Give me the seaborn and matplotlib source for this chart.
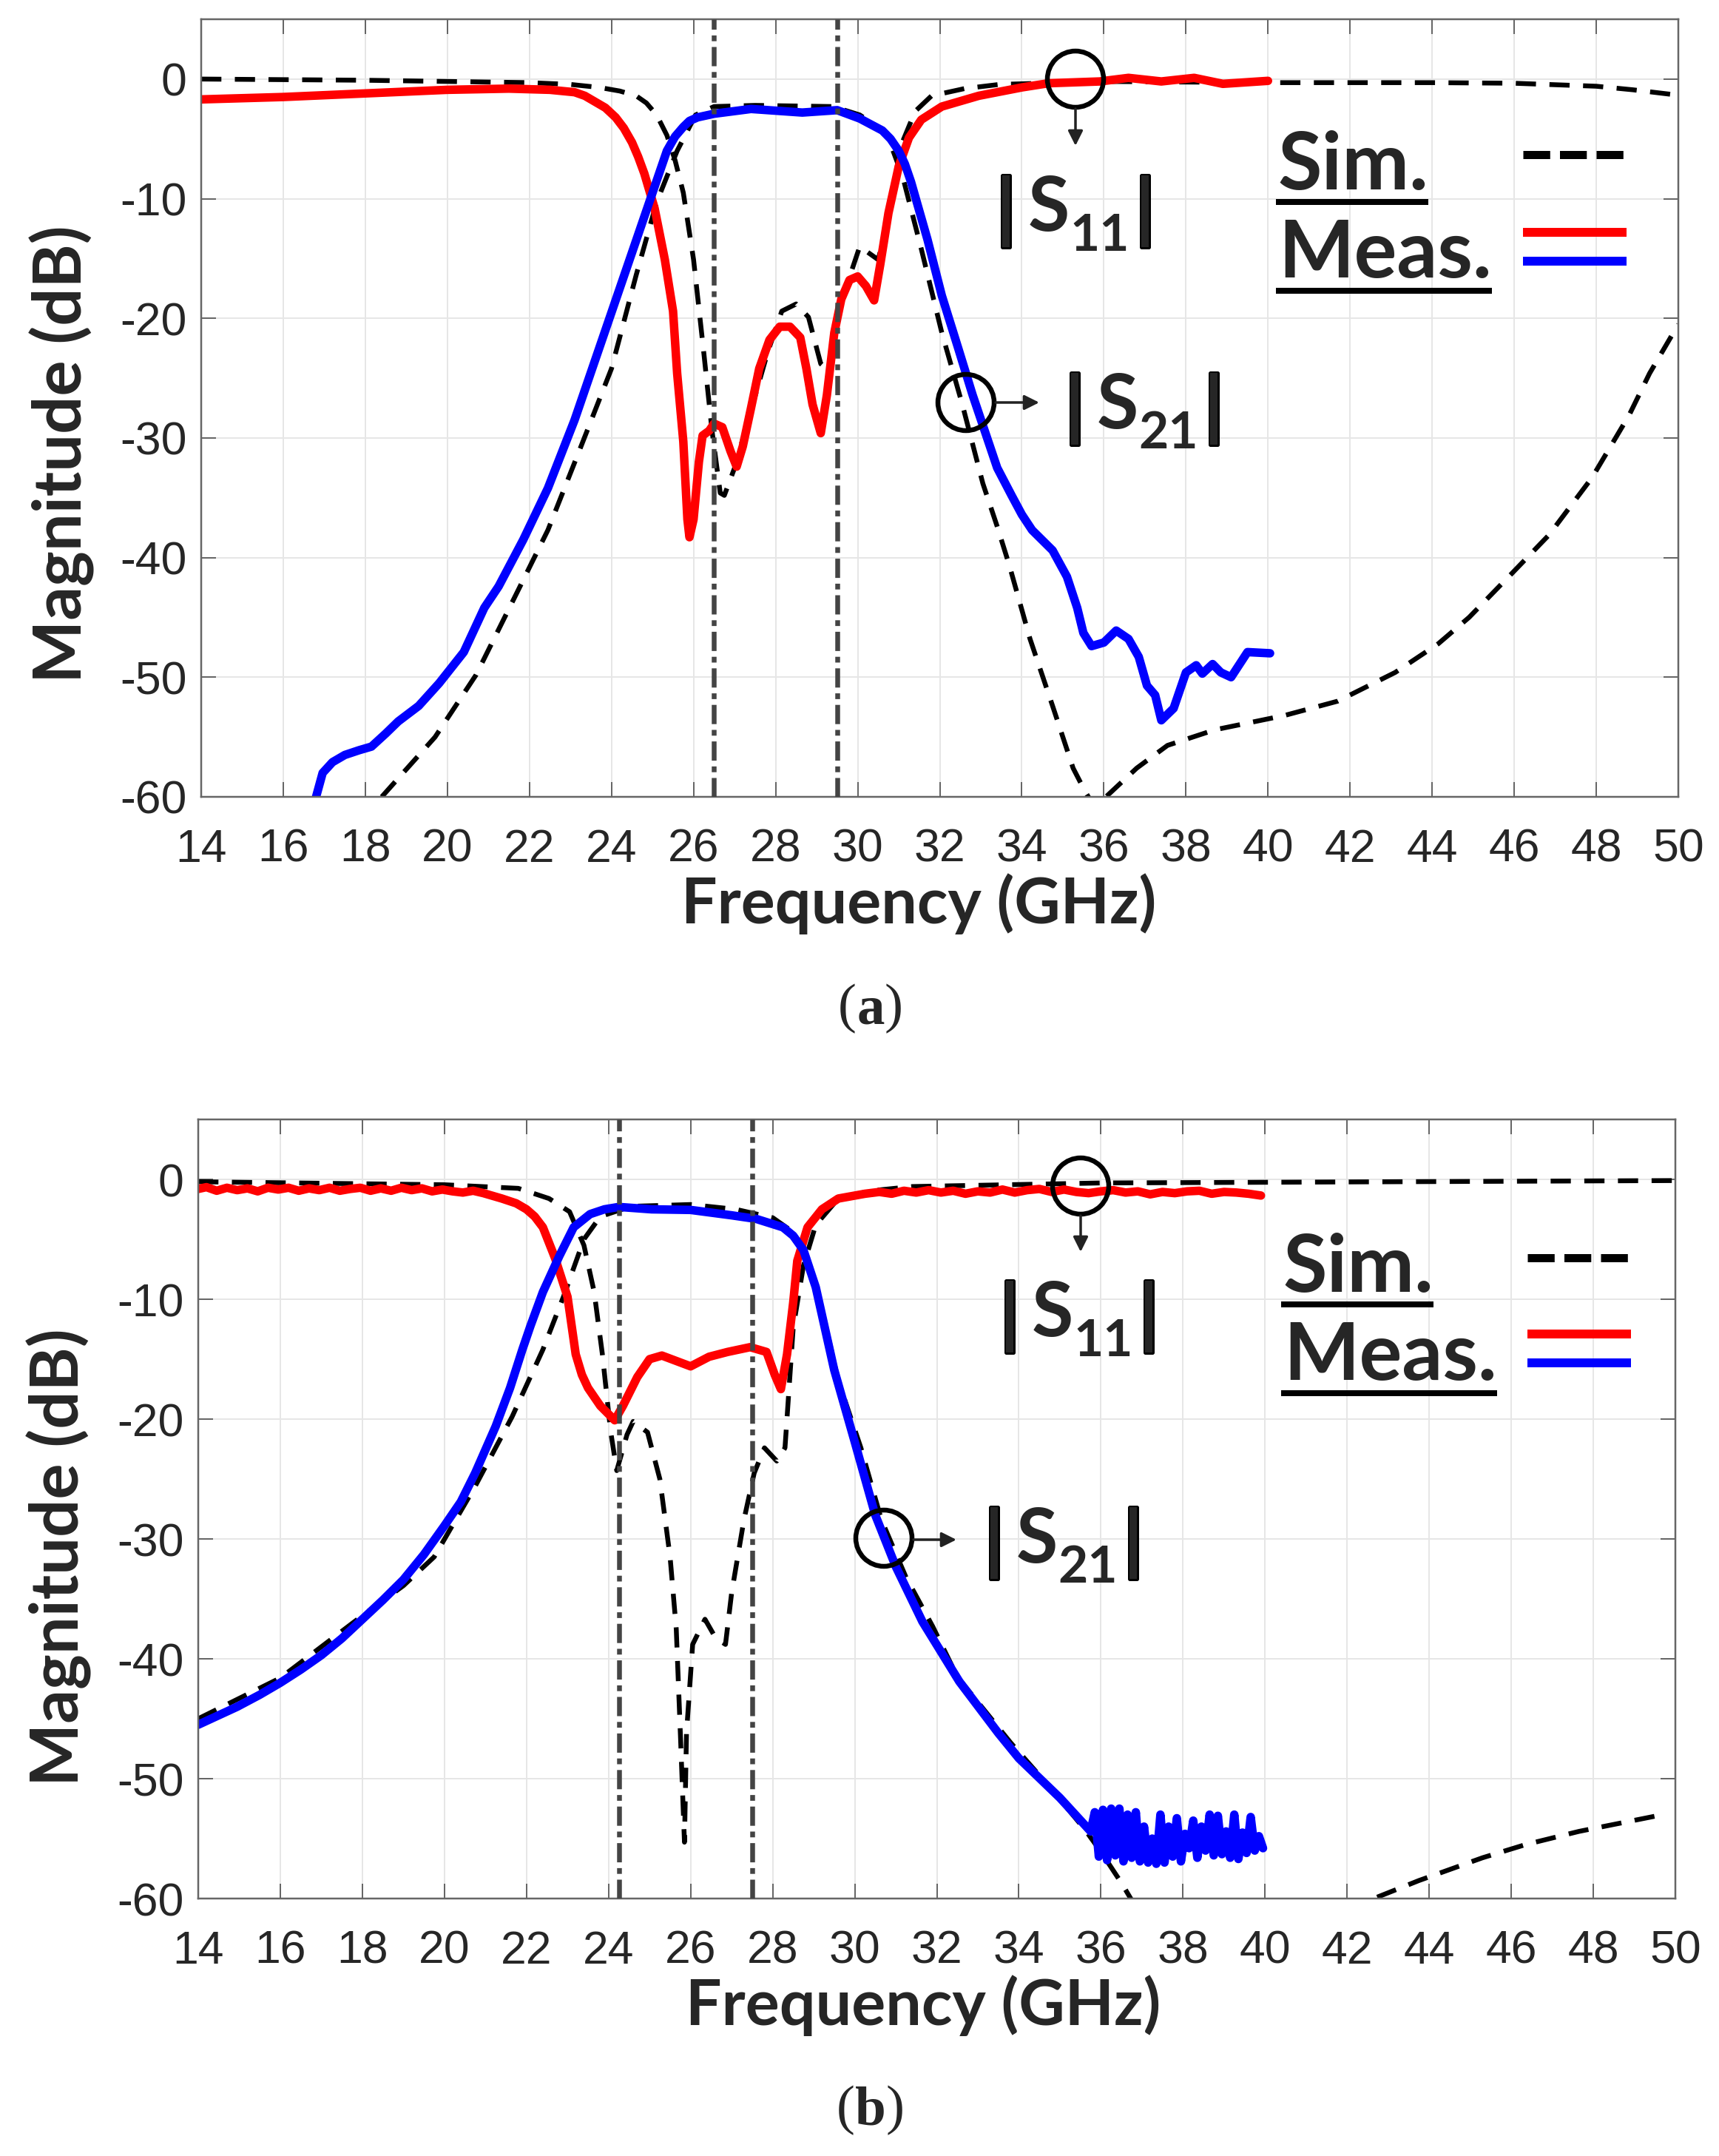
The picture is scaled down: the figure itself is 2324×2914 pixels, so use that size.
import matplotlib
matplotlib.use("Agg")
import matplotlib.pyplot as plt
import matplotlib.patheffects as pe
from matplotlib.patches import Circle
import seaborn as sns

# panel (a), values
a_sim_s11_x = [14, 18, 22, 23, 23.7, 24.2, 24.6, 24.85, 25.1, 25.35, 25.55, 25.75, 26, 26.25, 26.45, 26.65, 26.75, 27, 27.4, 27.8, 28.15, 28.5, 28.8, 29.1, 29.3, 29.6, 30.05, 30.5, 30.75, 31.05, 31.4, 31.8, 32.6, 33.45, 36, 40, 44, 46, 48, 48.9, 50]
a_sim_s11_y = [0, -0.1, -0.3, -0.45, -0.7, -1.0, -1.4, -2, -3, -4.7, -6.8, -9.5, -15.1, -22.9, -29.4, -34.6, -34.8, -32.5, -27.7, -22.9, -19.4, -18.8, -19.9, -23.8, -24.4, -18.6, -14, -15.1, -11.6, -5.6, -2.7, -1.4, -0.8, -0.45, -0.2, -0.3, -0.3, -0.35, -0.6, -0.9, -1.35]
a_sim_s21_x = [18.4, 19.7, 20.7, 21.7, 22.45, 23.2, 24, 24.6, 25.1, 25.6, 26.05, 26.5, 27.5, 29.4, 30.05, 30.7, 31.1, 31.55, 32.05, 32.55, 33.05, 33.4, 33.7, 34.2, 34.75, 35.25, 35.55, 35.8, 36.05, 36.8, 37.55, 38.7, 40.4, 41.7, 43.1, 44.15, 44.9, 45.95, 46.85, 47.9, 48.8, 49.3, 50]
a_sim_s21_y = [-60, -55, -49.8, -42.9, -37.7, -31.2, -24.2, -16.4, -10.3, -6, -3, -2.3, -2.2, -2.3, -3, -4.5, -8.2, -14.2, -21.2, -27.2, -33.8, -37.4, -40.7, -46.8, -52.4, -57.6, -59.6, -61, -60, -57.6, -55.7, -54.4, -53.2, -52, -49.6, -47.2, -45, -41.3, -38.1, -33.3, -28.1, -24.6, -20.5]
a_meas_s11_x = [14, 16, 18, 20, 21.5, 22.5, 23.1, 23.35, 23.6, 23.85, 24.1, 24.3, 24.5, 24.65, 24.8, 25.05, 25.3, 25.5, 25.6, 25.75, 25.85, 25.9, 26, 26.13, 26.22, 26.38, 26.5, 26.7, 26.9, 27.05, 27.2, 27.4, 27.6, 27.85, 28.1, 28.35, 28.6, 28.75, 28.9, 29.1, 29.25, 29.43, 29.6, 29.8, 30, 30.2, 30.4, 30.55, 30.75, 31, 31.25, 31.55, 32.05, 32.95, 34, 34.65, 35.9, 36.6, 37.4, 38.2, 38.9, 40]
a_meas_s11_y = [-1.7, -1.5, -1.2, -0.9, -0.8, -0.9, -1.1, -1.4, -1.9, -2.4, -3.2, -4.1, -5.3, -6.5, -7.9, -10.8, -15.1, -19.4, -24.6, -30.3, -36.8, -38.3, -36.8, -32, -29.8, -29.4, -28.8, -29.1, -31.1, -32.4, -30.7, -27.5, -24.2, -21.8, -20.7, -20.7, -21.6, -24.2, -27.2, -29.6, -26.4, -21.2, -18.4, -16.8, -16.5, -17.3, -18.5, -15.5, -11.2, -7.3, -4.9, -3.4, -2.3, -1.4, -0.7, -0.35, -0.2, 0.1, -0.2, 0.1, -0.4, -0.15]
a_meas_s21_x = [16.8, 16.96, 17.2, 17.5, 17.85, 18.15, 18.5, 18.8, 19.3, 19.8, 20.4, 20.9, 21.25, 21.85, 22.45, 23.1, 23.7, 24.35, 25, 25.35, 25.55, 25.75, 25.9, 26.1, 26.5, 27.4, 28.65, 29.5, 30.05, 30.6, 30.8, 31, 31.15, 31.3, 31.7, 32.05, 32.45, 32.8, 33.4, 33.75, 34, 34.25, 34.75, 35.1, 35.35, 35.5, 35.7, 36, 36.3, 36.6, 36.85, 37.05, 37.25, 37.4, 37.7, 38, 38.25, 38.4, 38.65, 38.85, 39.1, 39.5, 40.05]
a_meas_s21_y = [-60, -58, -57.1, -56.5, -56.1, -55.8, -54.7, -53.7, -52.4, -50.5, -47.9, -44.2, -42.4, -38.5, -34.2, -28.5, -22.5, -16, -9.5, -6, -4.8, -4, -3.5, -3.2, -2.9, -2.5, -2.8, -2.6, -3.3, -4.3, -5, -6, -7.1, -8.6, -13.4, -18.1, -22.5, -26.4, -32.5, -34.8, -36.4, -37.7, -39.4, -41.6, -44.2, -46.3, -47.4, -47.1, -46.1, -46.8, -48.3, -50.7, -51.5, -53.6, -52.6, -49.6, -49, -49.7, -48.9, -49.6, -50, -47.9, -48]

# panel (b)
b_sim_s11_x = [14, 20, 21.8, 22.55, 23.05, 23.4, 23.65, 23.85, 24.05, 24.2, 24.45, 24.6, 24.95, 25.25, 25.5, 25.65, 25.75, 25.85, 25.9, 26.05, 26.35, 26.6, 26.85, 27, 27.3, 27.55, 27.8, 28.1, 28.3, 28.5, 28.75, 29.05, 29.6, 30.4, 31.4, 36, 50]
b_sim_s11_y = [-0.2, -0.45, -0.75, -1.6, -2.7, -5.5, -9.4, -14.6, -21, -24.3, -21.3, -20.2, -21.1, -25, -31.5, -37.5, -46.2, -55.3, -46.2, -38.8, -36.7, -38.2, -38.8, -34.5, -28.4, -24.5, -22.4, -23.5, -22.4, -12.4, -7.2, -3.8, -1.6, -0.95, -0.6, -0.3, -0.1]
b_sim_s21_x = [14, 16, 18, 19, 19.75, 20.75, 21.65, 22.4, 22.9, 23.4, 23.8, 24.55, 26, 27.1, 28, 28.5, 28.85, 29.25, 29.6, 30.15, 30.65, 31.25, 31.9, 32.5, 33.8, 34.7, 35.6, 36, 36.5, 36.9, 42.4, 42.65, 43.75, 45.3, 46.35, 47.65, 49.55]
b_sim_s21_y = [-45, -41.6, -36.4, -33.9, -31.5, -25.6, -19.8, -14.2, -9.8, -5, -3.1, -2.25, -2.1, -2.5, -3.2, -4.4, -6.8, -11.6, -16.8, -22.4, -28.4, -33.2, -37.3, -41.5, -47, -50.5, -54.2, -56.1, -58.7, -61, -61, -60, -58.5, -56.6, -55.5, -54.4, -53.1]
b_meas_s11_x = [14, 14.2, 14.45, 14.7, 14.95, 15.2, 15.45, 15.7, 15.95, 16.2, 16.45, 16.7, 16.95, 17.2, 17.45, 17.7, 17.95, 18.2, 18.45, 18.7, 18.95, 19.2, 19.45, 19.7, 19.95, 20.2, 20.45, 20.7, 20.95, 21.4, 21.75, 22, 22.2, 22.4, 22.7, 23, 23.2, 23.35, 23.5, 23.8, 24.15, 24.35, 24.7, 25, 25.3, 26, 26.45, 26.9, 27.45, 27.85, 28.05, 28.2, 28.35, 28.5, 28.6, 28.85, 29.2, 29.6, 30.25, 30.6, 30.9, 31.2, 31.5, 31.8, 32.1, 32.4, 32.7, 33, 33.3, 33.6, 33.9, 34.2, 34.5, 34.8, 35.1, 35.4, 35.7, 36, 36.3, 36.6, 36.9, 37.2, 37.5, 37.8, 38.1, 38.4, 38.7, 39, 39.3, 39.6, 39.9]
b_meas_s11_y = [-0.8, -0.65, -0.95, -0.7, -0.9, -0.75, -1, -0.7, -0.85, -0.7, -0.95, -0.75, -0.9, -0.7, -0.95, -0.8, -0.7, -0.95, -0.75, -0.95, -0.7, -0.9, -0.75, -1, -0.85, -1, -1.1, -0.95, -1.15, -1.6, -2.0, -2.5, -3.1, -4, -6.6, -9.8, -14.6, -16.3, -17.4, -18.9, -20.1, -18.9, -16.5, -15, -14.7, -15.6, -14.8, -14.4, -14, -14.4, -16.3, -17.5, -14.6, -10.3, -6.8, -4, -2.5, -1.6, -1.2, -1.05, -1.2, -0.95, -1.1, -0.9, -1.1, -0.95, -1.2, -1, -1.1, -0.85, -1.1, -0.9, -0.8, -1.05, -0.85, -1.05, -1.15, -1, -0.9, -1.1, -1, -1.25, -1.05, -1.15, -1, -0.95, -1.2, -1.05, -1.1, -1.2, -1.35]
b_meas_s21_x = [14, 14.95, 15.5, 16, 16.5, 17, 17.5, 18, 18.5, 19, 19.5, 20, 20.4, 20.75, 21.25, 21.6, 21.9, 22.1, 22.4, 22.8, 23.15, 23.55, 23.9, 24.25, 25.05, 26, 27, 27.6, 28.25, 28.5, 28.75, 29.05, 29.5, 30, 30.5, 31, 31.65, 32.55, 33.5, 34, 35, 35.75, 35.85, 35.95, 36.05, 36.15, 36.25, 36.35, 36.45, 36.55, 36.65, 36.75, 36.85, 36.95, 37.05, 37.15, 37.25, 37.35, 37.45, 37.55, 37.65, 37.75, 37.85, 37.95, 38.05, 38.15, 38.25, 38.35, 38.45, 38.55, 38.65, 38.75, 38.85, 38.95, 39.05, 39.15, 39.25, 39.35, 39.45, 39.55, 39.65, 39.75, 39.85, 39.95]
b_meas_s21_y = [-45.5, -44, -43, -42, -40.9, -39.7, -38.3, -36.7, -35.1, -33.4, -31.3, -28.9, -26.9, -24.5, -20.6, -17.4, -14.2, -12.2, -9.4, -6.4, -4, -2.9, -2.5, -2.3, -2.5, -2.55, -3, -3.3, -4, -4.7, -5.9, -9, -15.9, -21.9, -28, -32.3, -36.9, -41.9, -46.2, -48.3, -51.6, -54.4, -52.8, -56.5, -52.6, -56.8, -52.5, -56.4, -52.5, -56.9, -53, -56.6, -52.8, -56.9, -54, -57, -55, -57.1, -53, -57, -54, -56.5, -53.3, -56.9, -54.6, -55.8, -53.5, -56.6, -54, -56, -53, -56.4, -53.1, -56.3, -54.4, -56.6, -53, -56.7, -54.5, -56.2, -53.2, -56, -54.8, -55.8]

xticks = [14, 16, 18, 20, 22, 24, 26, 28, 30, 32, 34, 36, 38, 40, 42, 44, 46, 48, 50]
yticks = [-60, -50, -40, -30, -20, -10, 0]
band_a = [26.5, 29.5]
band_b = [24.25, 27.5]

W, H = 2324, 2914
SANS = ["Liberation Sans", "DejaVu Sans"]
BOLD = ["Lato", "DejaVu Sans"]
SERIF = ["Liberation Serif"]

sns.set_theme(style="ticks", rc={"font.family": SANS, "axes.unicode_minus": False})
plt.rcParams["font.family"] = SANS


def px(v):
    # pixels to points at dpi 100
    return v * 0.72


def draw_panel(fig, box, sim11, sim21, meas11, meas21, band, xlabel_x, ylabel_y):
    left, top, right, bottom = box
    ax = fig.add_axes([left / W, 1 - bottom / H, (right - left) / W, (bottom - top) / H])
    for fx, fy in (sim11, sim21):
        sns.lineplot(x=fx, y=fy, ax=ax, color="black", lw=px(6.5), estimator=None, linestyle=(0, (4.2, 2.8)))
    for (fx, fy), col in zip((meas11, meas21), ("#ff0000", "#0000ff")):
        sns.lineplot(x=fx, y=fy, ax=ax, color=col, lw=px(11.5), estimator=None)
    for f in band:
        ax.axvline(f, color="#444444", lw=px(6.5), linestyle=(0, (4, 1.2, 1.2, 1.2)), zorder=4)
    ax.set_xlim(14, 50)
    ax.set_ylim(-60, 5)
    ax.set_xticks(xticks)
    ax.set_yticks(yticks)
    ax.grid(True, color="#e6e6e6", lw=px(2))
    ax.set_axisbelow(True)
    ax.tick_params(direction="in", length=px(20), width=px(2), color="#666666", top=True, right=True,
                   labelsize=45, labelcolor="#262626")
    ax.tick_params(axis="x", pad=30)
    ax.tick_params(axis="y", pad=14)
    for s in ax.spines.values():
        s.set_color("#666666")
        s.set_linewidth(px(2.5))
    ax.set_xlabel("Frequency (GHz)", fontsize=62, fontweight="bold", family=BOLD)
    ax.set_ylabel("Magnitude (dB)", fontsize=65, fontweight="bold", family=BOLD)
    ax.xaxis.set_label_coords(xlabel_x, -0.098)
    ax.yaxis.set_label_coords(-144 / (right - left), ylabel_y)
    return ax


def sparam(ov, x0, y0, sub):
    bar = dict(fontsize=74, fontweight="bold", family=BOLD, ha="left", va="center",
               path_effects=[pe.withStroke(linewidth=px(5), foreground="black")])
    ov.text(x0 - 7, y0 + 50, "|", **bar)
    ov.text(x0 + 36, y0 + 77, "S", fontsize=74, fontweight="bold", family=BOLD, ha="left", va="baseline")
    ov.text(x0 + 92, y0 + 104, sub, fontsize=50, fontweight="bold", family=BOLD, ha="left", va="baseline")
    ov.text(x0 + 181, y0 + 50, "|", **bar)


def key(ov, x0, base_sim, base_meas, x1, ydash, yred, yblue):
    ov.text(x0 + 2, base_sim, "Sim.", fontsize=78, fontweight="bold", family=BOLD, va="baseline")
    ov.text(x0 + 3, base_meas, "Meas.", fontsize=78, fontweight="bold", family=BOLD, va="baseline")
    ov.plot([x0, x0 + 206], [base_sim + 17, base_sim + 17], color="black", lw=px(8), solid_capstyle="butt")
    ov.plot([x0, x0 + 292], [base_meas + 18, base_meas + 18], color="black", lw=px(8), solid_capstyle="butt")
    ov.plot([x1, x1 + 140], [ydash, ydash], color="black", lw=px(11), linestyle=(0, (3.3, 1.2)), dash_capstyle="butt")
    ov.plot([x1, x1 + 140], [yred, yred], color="#ff0000", lw=px(12), solid_capstyle="butt")
    ov.plot([x1, x1 + 140], [yblue, yblue], color="#0000ff", lw=px(12), solid_capstyle="butt")


def marker(ov, cx, cy, start, end):
    ov.add_patch(Circle((cx, cy), 38, fill=False, ec="black", lw=px(6.5)))
    ov.annotate("", xy=end, xytext=start,
                arrowprops=dict(arrowstyle="-|>", color="#222222", lw=px(3.5), mutation_scale=30, shrinkA=0, shrinkB=0))


def caption(ov, x, y, letter, gap):
    ov.text(x, y, letter, fontsize=54, fontweight="bold", family=SERIF, ha="center", va="center")
    ov.text(x - gap, y - 2, "(", fontsize=54, family=SERIF, ha="right", va="center")
    ov.text(x + gap, y - 2, ")", fontsize=54, family=SERIF, ha="left", va="center")


fig = plt.figure(figsize=(W / 100, H / 100), dpi=100)
draw_panel(fig, (272, 26, 2269, 1077), (a_sim_s11_x, a_sim_s11_y), (a_sim_s21_x, a_sim_s21_y),
           (a_meas_s11_x, a_meas_s11_y), (a_meas_s21_x, a_meas_s21_y), band_a, 0.486, 0.441)
draw_panel(fig, (268, 1513, 2265, 2566), (b_sim_s11_x, b_sim_s11_y), (b_sim_s21_x, b_sim_s21_y),
           (b_meas_s11_x, b_meas_s11_y), (b_meas_s21_x, b_meas_s21_y), band_b, 0.491, 0.438)

# overlay in image pixels for the hand-placed notes
ov = fig.add_axes([0, 0, 1, 1])
ov.set_xlim(0, W)
ov.set_ylim(H, 0)
ov.axis("off")

marker(ov, 1454, 107, (1454, 147), (1454, 197))
marker(ov, 1306, 544, (1346, 544), (1405, 544))
sparam(ov, 1354, 235, "11")
sparam(ov, 1447, 502, "21")
key(ov, 1725, 256, 375, 2059, 209, 314, 353)

marker(ov, 1461, 1603, (1461, 1643), (1461, 1692))
marker(ov, 1195, 2079, (1235, 2081), (1293, 2081))
sparam(ov, 1359, 1729, "11")
sparam(ov, 1338, 2035, "21")
key(ov, 1732, 1746, 1865, 2065, 1700, 1803, 1842)

caption(ov, 1177, 1365, "a", 19)
caption(ov, 1177, 2854, "b", 21)

fig.savefig("out.png", dpi=100)
